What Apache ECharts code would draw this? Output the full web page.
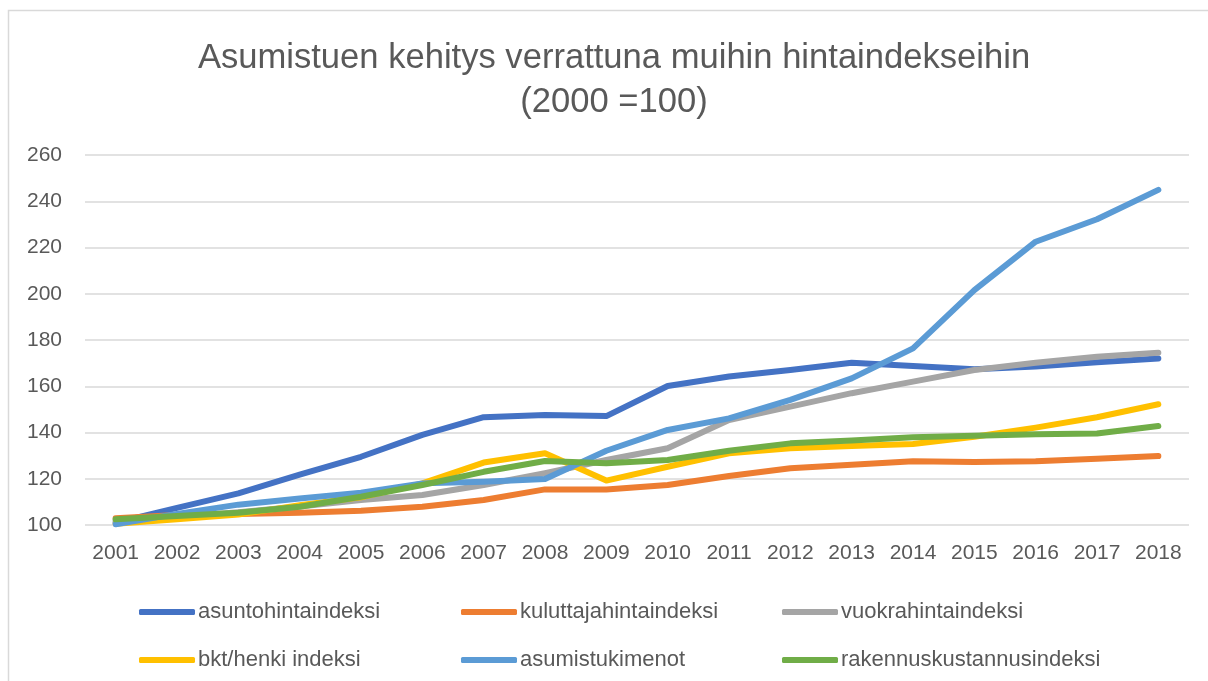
<!DOCTYPE html>
<html>
<head>
<meta charset="utf-8">
<script src="https://cdn.jsdelivr.net/npm/echarts@6/dist/echarts.min.js"></script>
<style>
html,body{margin:0;padding:0;background:#fff}
#Chart{width:1208px;height:681px}
</style>
</head>
<body>
<div id="Chart"></div>
<script>
var years=['2001','2002','2003','2004','2005','2006','2007','2008','2009','2010','2011','2012','2013','2014','2015','2016','2017','2018']

var asuntohinta=[101,107.4,113.7,121.8,129.5,139,146.6,147.6,147.1,160.1,164.2,167,170.2,168.8,167.3,168.5,170.4,172]
var kuluttajahinta=[102.9,104.3,104.8,105.3,106.2,107.9,110.8,115.4,115.4,117.3,121.2,124.5,126.1,127.6,127.2,127.6,128.7,129.8]
var vuokrahinta=[102,103.5,105.5,108,110.8,113,117.3,122.4,128.1,133.2,145.4,151.2,157,162,167,170.2,172.8,174.5]
var bkt=[100.5,102.5,104.5,108.6,112,118,127,131,119.2,125.2,131,133.2,134.2,135,138.2,142.1,146.6,152.2]
var asumistuki=[100.3,104.8,108.8,111.5,114,118,118.7,119.9,132.1,141.1,146.1,154.1,163.4,176.4,201.6,222.5,232.2,244.9]
var rakennus=[102.5,103.9,105.3,107.9,112.2,117.3,123,127.7,126.7,128.1,132.1,135.3,136.5,137.9,138.6,139.2,139.6,142.8]

var txtColor='#595959'
var font='Liberation Sans'

//线条
function line(name,data,color){
    return {
        name:name,
        type:'line',
        data:data,
        showSymbol:false,
        symbol:'none',
        lineStyle:{width:6,color:color,cap:'round',join:'round'},
        itemStyle:{color:color}
    }
}

//图例一列
function legendCol(left,names){
    return {
        orient:'vertical',
        left:left,
        top:595,
        icon:'roundRect',
        itemWidth:56,
        itemHeight:6,
        itemGap:24,
        textStyle:{color:txtColor,fontSize:22,fontFamily:font,lineHeight:24,padding:[0,0,0,-2]},
        data:names
    }
}

var myChart=echarts.init(document.getElementById('Chart'))
var option={
    animation:false,
    title:{
        text:'Asumistuen kehitys verrattuna muihin hintaindekseihin\n(2000 =100)',
        left:609,
        textAlign:'center',
        top:31,
        textStyle:{color:txtColor,fontSize:34.6,fontWeight:'normal',fontFamily:font,lineHeight:44}
    },
    graphic:[{
        type:'polyline',
        shape:{points:[[8.5,700],[8.5,10.5],[1220,10.5]]},
        style:{fill:'none',stroke:'#d9d9d9',lineWidth:1.5},
        silent:true
    }],
    legend:[
        legendCol(134,['asuntohintaindeksi','bkt/henki indeksi']),
        legendCol(456,['kuluttajahintaindeksi','asumistukimenot']),
        legendCol(777,['vuokrahintaindeksi','rakennuskustannusindeksi'])
    ],
    grid:{left:85,right:19,top:155,bottom:156},
    xAxis:{
        type:'category',
        data:years,
        boundaryGap:true,
        axisLine:{show:false},
        axisTick:{show:false},
        axisLabel:{color:txtColor,fontSize:21,fontFamily:font,margin:18}
    },
    yAxis:{
        type:'value',
        min:100,
        max:260,
        interval:20,
        axisLine:{show:false},
        axisTick:{show:false},
        axisLabel:{color:txtColor,fontSize:21,fontFamily:font,margin:23},
        splitLine:{lineStyle:{color:'#d9d9d9',width:1.5}}
    },
    series:[
        line('asuntohintaindeksi',asuntohinta,'#4472C4'),
        line('kuluttajahintaindeksi',kuluttajahinta,'#ED7D31'),
        line('vuokrahintaindeksi',vuokrahinta,'#A5A5A5'),
        line('bkt/henki indeksi',bkt,'#FFC000'),
        line('asumistukimenot',asumistuki,'#5B9BD5'),
        line('rakennuskustannusindeksi',rakennus,'#70AD47')
    ]
}
myChart.setOption(option)
</script>
</body>
</html>
